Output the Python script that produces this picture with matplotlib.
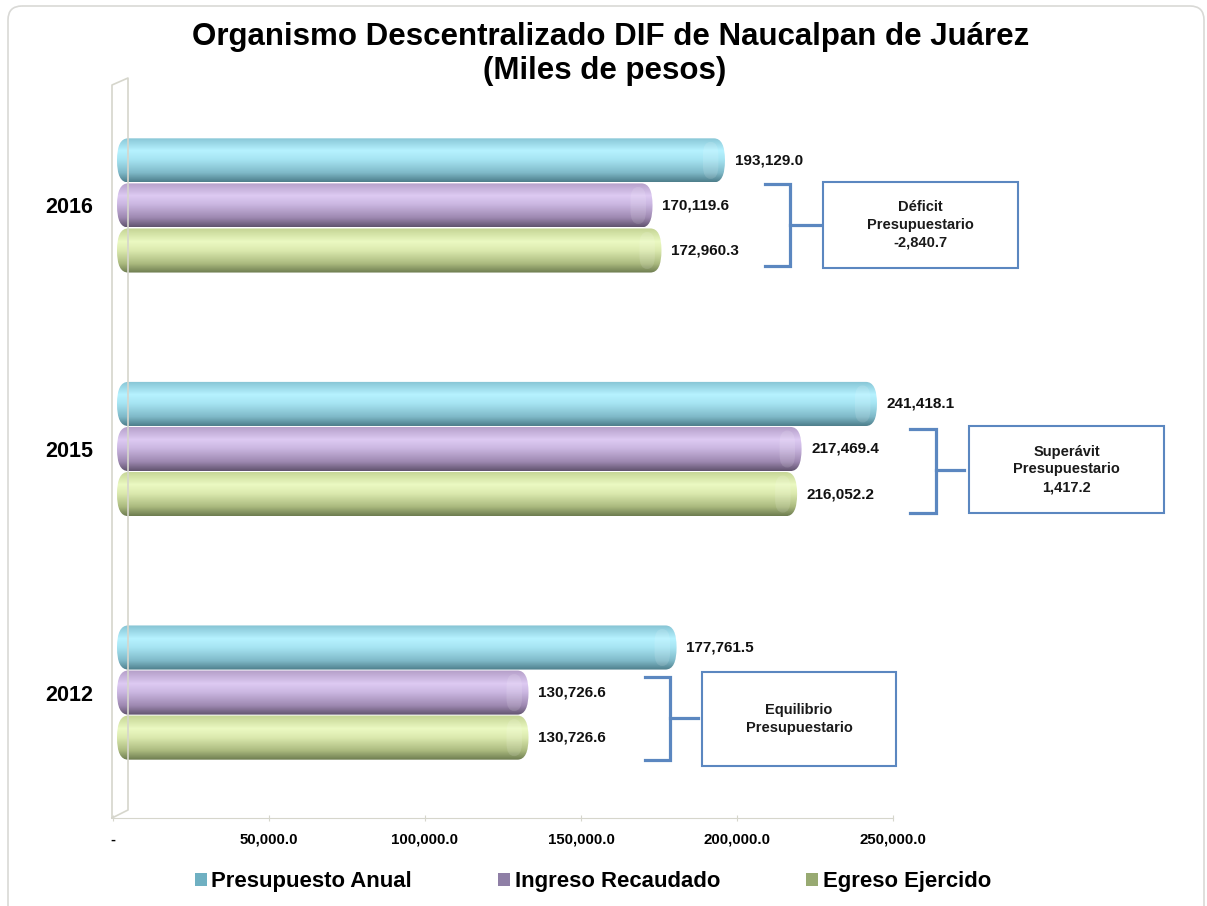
import matplotlib.pyplot as plt
import numpy as np
from matplotlib.colors import LinearSegmentedColormap
from matplotlib.patches import FancyBboxPatch, Patch, Rectangle

YEARS = ["2012", "2015", "2016"]
PRESUPUESTO = [177761.5, 241418.1, 193129.0]
INGRESO = [130726.6, 217469.4, 170119.6]
EGRESO = [130726.6, 216052.2, 172960.3]
SERIES = ["Presupuesto Anual", "Ingreso Recaudado", "Egreso Ejercido"]
TICKS = [0, 50000, 100000, 150000, 200000, 250000]

W, H = 1207, 906
FONT = "Liberation Sans"
BRACKET = "#5b87c0"

# vertical shading of each cylinder, top edge -> bottom edge
SHADES = [
    ["#86c4d4", "#b6f2ff", "#a6e4f2", "#7fb9c8", "#4e7f8c"],
    ["#b49ec8", "#ddcaf2", "#cab6e0", "#9d88b0", "#625470"],
    ["#c4d494", "#ebf9c2", "#dbe9ae", "#aab97e", "#6e7d50"],
]
LEGEND_C = ["#6fb0c2", "#8f7fa6", "#98aa72"]

plt.rcParams["font.family"] = [FONT, "DejaVu Sans"]
fig = plt.figure(figsize=(W / 100, H / 100), dpi=100)


def fx(px):
    return px / W


def fy(py):
    return 1 - py / H


# axis frame (ticks) and bar axes; the 3D depth shifts the bars a little right
ax_t = fig.add_axes([fx(113), fy(818), fx(893) - fx(113), fy(80) - fy(818)])
ax = fig.add_axes([fx(117), fy(818), fx(904) - fx(117), fy(80) - fy(818)])
for a in (ax_t, ax):
    a.set_facecolor("none")
    for s in a.spines.values():
        s.set_visible(False)

ax_t.set_xlim(0, 250000)
ax_t.set_ylim(0, 1)
ax_t.spines["bottom"].set_visible(True)
ax_t.spines["bottom"].set_color("#d6d6cc")
ax_t.set_xticks(TICKS)
ax_t.set_xticklabels(["-"] + [f"{t:,.1f}" for t in TICKS[1:]],
                     fontsize=10.8, fontweight="bold")
ax_t.tick_params(axis="x", direction="inout", length=5, color="#d6d6cc", pad=8)
ax_t.set_yticks([])

pos = np.arange(len(YEARS))
pitch, bh = 0.185, 0.181
ax.set_xlim(0, 250000)
ax.set_ylim(-0.515, 2.515)
ax.set_xticks([])
ax.set_yticks(pos)
ax.set_yticklabels(YEARS, fontsize=15.5, fontweight="bold")
ax.tick_params(axis="y", length=0, pad=17)

# px -> data conversion for the rounded caps
ux = 250000 / (904 - 117)
rx = 11 * ux
aspect = (bh / 2) / rx

for k, vals in enumerate([PRESUPUESTO, INGRESO, EGRESO]):
    off = pitch * (1 - k)
    bars = ax.barh(pos + off, vals, height=bh, color=LEGEND_C[k], alpha=0)
    cmap = LinearSegmentedColormap.from_list(f"s{k}", list(zip([0, .3, .5, .8, 1], SHADES[k])))
    grad = np.linspace(0, 1, 64).reshape(-1, 1)
    for b, v in zip(bars, vals):
        x0, y0, bw, hh = b.get_x(), b.get_y(), b.get_width(), b.get_height()
        shape = FancyBboxPatch((x0, y0), bw, hh,
                               boxstyle=f"round,pad=0,rounding_size={rx * 0.999}",
                               mutation_aspect=aspect, facecolor="none",
                               edgecolor="none")
        ax.add_patch(shape)
        im = ax.imshow(grad, cmap=cmap, aspect="auto", origin="upper",
                       extent=(x0, x0 + bw, y0, y0 + hh), zorder=2)
        im.set_clip_path(shape)
        # end cap of the cylinder
        cap = FancyBboxPatch((x0 + bw - 2 * rx, y0 + hh * 0.08), 1.4 * rx, hh * 0.84,
                             boxstyle=f"round,pad=0,rounding_size={0.69 * rx}",
                             mutation_aspect=aspect * 0.84 / 0.99,
                             facecolor="white", edgecolor="none", alpha=0.12, zorder=3)
        ax.add_patch(cap)
        ax.annotate(f"{v:,.1f}", (x0 + bw, y0 + hh / 2), xytext=(7, 0),
                    textcoords="offset points", va="center", ha="left",
                    fontsize=11, fontweight="bold", color="#111111")
ax.set_xlim(0, 250000)
ax.set_ylim(-0.515, 2.515)

# overlay in pixel coordinates for title, wall, brackets and boxes
ov = fig.add_axes([0, 0, 1, 1])
ov.set_xlim(0, W)
ov.set_ylim(H, 0)
ov.axis("off")
ov.set_facecolor("none")

ov.add_patch(FancyBboxPatch((8, 6), W - 11, H + 30,
                            boxstyle="round,pad=0,rounding_size=14",
                            facecolor="none", edgecolor="#d9d9d6", lw=1.2))
ov.plot([112, 112, 128, 128, 112], [818, 85, 78, 810, 818], color="#d6d6cc", lw=1.2)

ov.text(611, 37, "Organismo Descentralizado DIF de Naucalpan de Juárez",
        ha="center", va="center", fontsize=22.5, fontweight="bold")
ov.text(605, 71, "(Miles de pesos)", ha="center", va="center",
        fontsize=22.5, fontweight="bold")

balance = [round(i - e, 1) for i, e in zip(INGRESO, EGRESO)]
labels = []
for b in balance:
    if b == 0:
        labels.append("Equilibrio\nPresupuestario")
    elif b > 0:
        labels.append(f"Superávit\nPresupuestario\n{b:,.1f}")
    else:
        labels.append(f"Déficit\nPresupuestario\n{b:,.1f}")

# bracket: x1, x2, top, bottom, mid, mid_end ; box: left, right, top, bottom
brackets = [(645, 670, 677, 760, 718, 698), (910, 936, 429, 513, 470, 964),
            (765, 790, 184, 266, 225, 820)]
boxes = [(702, 896, 672, 766), (969, 1164, 426, 513), (823, 1018, 182, 268)]
for (x1, x2, t, bt, m, me), (bl, br, btop, bbot), lab in zip(brackets, boxes, labels):
    ov.plot([x1, x2, x2, x1], [t, t, bt, bt], color=BRACKET, lw=2.3,
            solid_joinstyle="miter")
    ov.plot([x2, me], [m, m], color=BRACKET, lw=2.3)
    ov.add_patch(Rectangle((bl, btop), br - bl, bbot - btop, facecolor="white",
                           edgecolor=BRACKET, lw=1.5))
    ov.text((bl + br) / 2, (btop + bbot) / 2, lab, ha="center", va="center",
            fontsize=10.5, fontweight="bold", color="#1a1a1a", linespacing=1.35)

handles = [Patch(facecolor=c, edgecolor="none") for c in LEGEND_C]
fig.legend(handles, SERIES, loc="center", bbox_to_anchor=(fx(593), fy(882)),
           ncol=3, frameon=False, prop={"family": FONT, "weight": "bold", "size": 15.9},
           handlelength=0.55, handleheight=0.55, handletextpad=0.2, columnspacing=3.9)

fig.savefig("out.png", dpi=100, facecolor="white")
